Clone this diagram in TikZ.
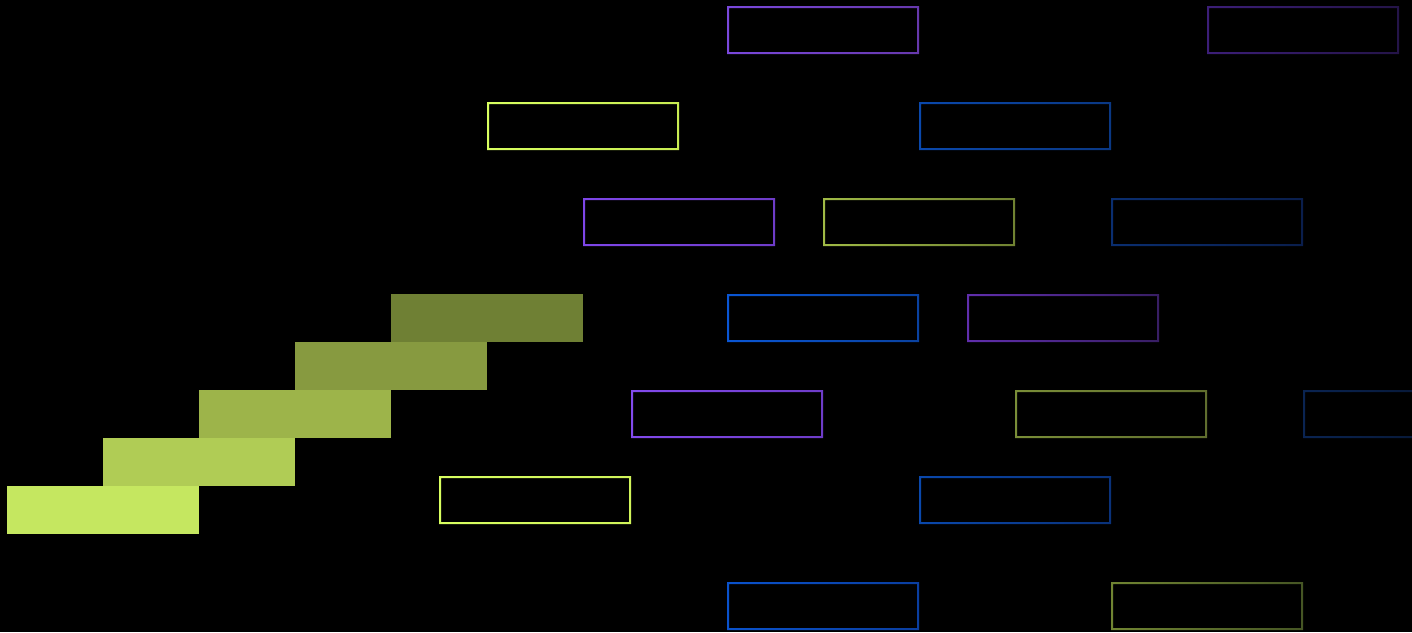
\documentclass[tikz,border=0pt]{standalone}
\usetikzlibrary{shadings}

% colours of the staircase, darkest step on top
\definecolor{stepA}{RGB}{111,128,52}
\definecolor{stepB}{RGB}{135,154,64}
\definecolor{stepC}{RGB}{157,180,74}
\definecolor{stepD}{RGB}{176,204,85}
\definecolor{stepE}{RGB}{197,231,96}

% frame colours, L = left edge, R = right edge
\definecolor{violetL}{RGB}{122,72,220}   \definecolor{violetR}{RGB}{102,56,172}
\definecolor{duskL}{RGB}{60,30,120}      \definecolor{duskR}{RGB}{36,20,72}
\definecolor{limeL}{RGB}{216,255,96}     \definecolor{limeR}{RGB}{200,236,82}
\definecolor{navyL}{RGB}{10,72,172}      \definecolor{navyR}{RGB}{10,56,132}
\definecolor{orchidL}{RGB}{126,70,232}   \definecolor{orchidR}{RGB}{110,60,200}
\definecolor{oliveL}{RGB}{160,186,70}    \definecolor{oliveR}{RGB}{112,130,50}
\definecolor{deepL}{RGB}{10,46,112}      \definecolor{deepR}{RGB}{10,30,76}
\definecolor{azureL}{RGB}{10,86,212}     \definecolor{azureR}{RGB}{10,66,160}
\definecolor{plumL}{RGB}{96,46,172}      \definecolor{plumR}{RGB}{56,30,100}
\definecolor{lilacL}{RGB}{130,74,236}    \definecolor{lilacR}{RGB}{110,60,200}
\definecolor{mossL}{RGB}{122,142,56}     \definecolor{mossR}{RGB}{96,110,46}
\definecolor{inkL}{RGB}{10,36,82}        \definecolor{inkR}{RGB}{6,18,40}
\definecolor{chartL}{RGB}{216,255,96}    \definecolor{chartR}{RGB}{208,244,90}
\definecolor{cobaltL}{RGB}{10,72,172}    \definecolor{cobaltR}{RGB}{10,50,122}
\definecolor{royalL}{RGB}{10,82,204}     \definecolor{royalR}{RGB}{10,62,160}
\definecolor{oakL}{RGB}{112,132,50}      \definecolor{oakR}{RGB}{70,86,36}

% frame at x (left), y (top), in colour pair #3
\newcommand{\frameat}[3]{%
  \shade[even odd rule,left color=#3L,right color=#3R]
    (#1,#2) rectangle ++(192,48)
    (#1+2,#2+2) rectangle ++(188,44);
}

\begin{document}
\begin{tikzpicture}[
  x=1pt,y=-1pt,
  stepbox/.style={draw=none},
]

%--- background --------------------------------------------------------------
\fill[black] (0,0) rectangle (1412,632);
\useasboundingbox (0,0) rectangle (1412,632);

%--- staircase of filled steps -----------------------------------------------
\fill[stepbox,stepA] (391,294) rectangle ++(192,48);
\fill[stepbox,stepB] (295,342) rectangle ++(192,48);
\fill[stepbox,stepC] (199,390) rectangle ++(192,48);
\fill[stepbox,stepD] (103,438) rectangle ++(192,48);
\fill[stepbox,stepE] (7,486)   rectangle ++(192,48);

%--- outlined frames ---------------------------------------------------------
% row 1
\frameat{727}{6}{violet}
\frameat{1207}{6}{dusk}
% row 2
\frameat{487}{102}{lime}
\frameat{919}{102}{navy}
% row 3
\frameat{583}{198}{orchid}
\frameat{823}{198}{olive}
\frameat{1111}{198}{deep}
% row 4
\frameat{727}{294}{azure}
\frameat{967}{294}{plum}
% row 5
\frameat{631}{390}{lilac}
\frameat{1015}{390}{moss}
\frameat{1303}{390}{ink}
% row 6
\frameat{439}{476}{chart}
\frameat{919}{476}{cobalt}
% row 7
\frameat{727}{582}{royal}
\frameat{1111}{582}{oak}

\end{tikzpicture}
\end{document}
